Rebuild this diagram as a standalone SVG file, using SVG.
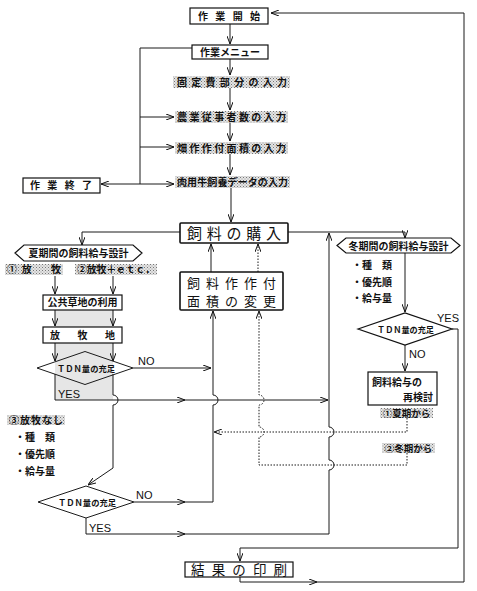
<svg xmlns="http://www.w3.org/2000/svg" width="477" height="591" viewBox="0 0 477 591">
<style>
.ln{fill:none;stroke:#1a1a1a;stroke-width:1}
.dt{fill:none;stroke:#1a1a1a;stroke-width:1;stroke-dasharray:1.5 1.5}
.bx{fill:#fff;stroke:#111;stroke-width:1.2}
.bb{fill:#fff;stroke:#111;stroke-width:1.6}
.sp{fill:url(#st);stroke:none}
.t{font-family:"Noto Sans CJK JP","Noto Sans CJK SC",sans-serif;font-size:10px;font-weight:700;fill:#111}
.tb{font-family:"Noto Sans CJK JP","Noto Sans CJK SC",sans-serif;font-size:15px;font-weight:400;fill:#111}
.en{font-family:"Liberation Sans",Arial,sans-serif;font-size:11px;fill:#111}
.dm{font-family:"Noto Sans CJK JP","Noto Sans CJK SC",sans-serif;font-size:8.5px;font-weight:700;fill:#111}
</style>
<defs>
<pattern id="st" width="3" height="3" patternUnits="userSpaceOnUse"><rect width="3" height="3" fill="#e4e4e4"/><rect width="1" height="1" fill="#777"/><rect x="1.5" y="1.5" width="1" height="1" fill="#999"/></pattern>
<marker id="ar" viewBox="0 0 8 6" refX="8" refY="3" markerWidth="8" markerHeight="6" orient="auto" markerUnits="userSpaceOnUse"><path d="M0,0 L8,3 L0,6" fill="none" stroke="#111" stroke-width="1"/></marker>
</defs>
<rect width="477" height="591" fill="#fff"/>
<rect x="55" y="310" width="58" height="90" fill="#e6e6e6"/>

<g id="connectors">
<path class="ln" d="M230,24 V44" marker-end="url(#ar)"/>
<path class="ln" d="M230,59 V75" marker-end="url(#ar)"/>
<path class="ln" d="M230,88 V110" marker-end="url(#ar)"/>
<path class="ln" d="M230,123 V141" marker-end="url(#ar)"/>
<path class="ln" d="M230,154 V175" marker-end="url(#ar)"/>
<path class="ln" d="M231,188 V222" marker-end="url(#ar)"/>
<path class="ln" d="M192,48 H140 V184"/>
<path class="ln" d="M140,117 H174" marker-end="url(#ar)"/>
<path class="ln" d="M140,147 H174" marker-end="url(#ar)"/>
<path class="ln" d="M140,184 H174" marker-end="url(#ar)"/>
<path class="ln" d="M140,184 H101" marker-end="url(#ar)"/>
<path class="ln" d="M180,232 H82 V245" marker-end="url(#ar)"/>
<path class="ln" d="M288,232 H405 V238" marker-end="url(#ar)"/>
<path class="ln" d="M55,276 V294" marker-end="url(#ar)"/>
<path class="ln" d="M113,276 V294" marker-end="url(#ar)"/>
<path class="ln" d="M55,310 V326" marker-end="url(#ar)"/>
<path class="ln" d="M113,310 V326" marker-end="url(#ar)"/>
<path class="ln" d="M55,343 V361" marker-end="url(#ar)"/>
<path class="ln" d="M113,343 V361" marker-end="url(#ar)"/>
<path class="ln" d="M133,368 H211" marker-end="url(#ar)"/>
<path class="ln" d="M55,374 V400 H185" marker-end="url(#ar)"/>
<path class="ln" d="M185,400 H328" marker-end="url(#ar)"/>
<path class="ln" d="M113,374 V395 A5,5 0 0 1 113,405 V468 L88,485" marker-end="url(#ar)"/>
<path class="ln" d="M134,502 H185" marker-end="url(#ar)"/>
<path class="ln" d="M185,502 H213 V405 A5,5 0 0 0 213,395 V311" marker-end="url(#ar)"/>
<path class="ln" d="M86,518 V534 H185" marker-end="url(#ar)"/>
<path class="ln" d="M185,534 H329 V470 A5,5 0 0 0 329,460 V437 A5,5 0 0 0 329,427 V233" marker-end="url(#ar)"/>
<path class="ln" d="M211,272 V244" marker-end="url(#ar)"/>
<path class="dt" d="M258,272 V244" marker-end="url(#ar)"/>
<path class="ln" d="M405,253 V312" marker-end="url(#ar)"/>
<path class="ln" d="M405,345 V371" marker-end="url(#ar)"/>
<path class="ln" d="M452,329 H458 V548 H240 V561" marker-end="url(#ar)"/>
<path class="ln" d="M240,577 V582 H317" marker-end="url(#ar)"/>
<path class="ln" d="M317,582 H464 V13 H271" marker-end="url(#ar)"/>
<path class="dt" d="M407,418 V432 H214" marker-end="url(#ar)"/>
<path class="dt" d="M407,453 V465 H259 V437 A5,5 0 0 0 259,427 V405 A5,5 0 0 0 259,395 V311" marker-end="url(#ar)"/>
</g>

<g id="start"><rect class="bx" x="190" y="8" width="78" height="16"/><text class="t" x="198" y="20" textLength="62" lengthAdjust="spacing">作業開始</text></g>
<g id="menu"><rect class="bx" x="192" y="45" width="76" height="14"/><text class="t" x="230" y="56" text-anchor="middle">作業メニュー</text></g>
<g id="fixed"><rect class="sp" x="173" y="76" width="117" height="12"/><text class="t" x="177" y="86" textLength="110" lengthAdjust="spacing">固定費部分の入力</text></g>
<g id="workers"><rect class="sp" x="175" y="111" width="113" height="12"/><text class="t" x="177" y="121" textLength="109" lengthAdjust="spacing">農業従事者数の入力</text></g>
<g id="area"><rect class="sp" x="175" y="142" width="113" height="12"/><text class="t" x="177" y="152" textLength="109" lengthAdjust="spacing">畑作作付面積の入力</text></g>
<g id="cattle"><rect class="sp" x="175" y="176" width="115" height="12"/><text class="t" x="177" y="186" textLength="111" lengthAdjust="spacing">肉用牛飼養データの入力</text></g>
<g id="end"><rect class="bx" x="23" y="178" width="77" height="15"/><text class="t" x="30" y="189" textLength="62" lengthAdjust="spacing">作業終了</text></g>
<g id="purchase"><rect class="bb" x="180" y="223" width="108" height="20" rx="1"/><text class="tb" x="187" y="238.5" textLength="94" lengthAdjust="spacing">飼料の購入</text></g>
<g id="summer"><polygon class="bx" points="15,253 24,245 133,245 142,253 133,261 24,261"/><text class="t" x="78.5" y="257" text-anchor="middle">夏期間の飼料給与設計</text></g>
<g id="graze"><rect class="sp" x="5" y="264" width="58" height="11"/><text class="t" x="7" y="273" textLength="54" lengthAdjust="spacing">①放　牧</text></g>
<g id="grazeetc"><rect class="sp" x="75" y="264" width="82" height="11"/><text class="t" x="77" y="273" textLength="78" lengthAdjust="spacing">②放牧＋ｅｔｃ．</text></g>
<g id="public"><rect class="bx" x="43" y="295" width="79" height="15"/><text class="t" x="82.5" y="306" text-anchor="middle">公共草地の利用</text></g>
<g id="pasture"><rect class="bx" x="43" y="327" width="79" height="16"/><text class="t" x="50" y="339" textLength="65" lengthAdjust="spacing">放牧地</text></g>
<g id="tdn1"><polygon class="ln" points="37,368 85,351.5 133,368 85,384.5"/><text class="dm" x="57" y="371.5" textLength="58" lengthAdjust="spacingAndGlyphs">ＴＤＮ量の充足</text></g>
<g id="nograze"><rect class="sp" x="7" y="415" width="58" height="10"/><text class="t" x="9" y="423.5" textLength="54" lengthAdjust="spacing">③放牧なし</text></g>
<g id="list1"><text class="t" x="15" y="441">・種　類</text><text class="t" x="15" y="458">・優先順</text><text class="t" x="15" y="475">・給与量</text></g>
<g id="tdn2"><polygon class="ln" points="38,502 86,486 134,502 86,518"/><text class="dm" x="58" y="505.5" textLength="58" lengthAdjust="spacingAndGlyphs">ＴＤＮ量の充足</text></g>
<g id="change"><rect class="bb" x="180" y="272" width="103" height="38" rx="1"/><text class="tb" x="187" y="287.5" style="font-size:13px" textLength="89" lengthAdjust="spacing">飼料作作付</text><text class="tb" x="187" y="306" style="font-size:13px" textLength="89" lengthAdjust="spacing">面積の変更</text></g>
<g id="winter"><polygon class="bx" points="337,245.5 346,238 451,238 460,245.5 451,253 346,253"/><text class="t" x="398.5" y="249.5" text-anchor="middle">冬期間の飼料給与設計</text></g>
<g id="list2"><text class="t" x="352" y="269">・種　類</text><text class="t" x="352" y="286">・優先順</text><text class="t" x="352" y="302">・給与量</text></g>
<g id="tdn3"><polygon class="bx" points="358,329 405,313 452,329 405,345"/><text class="dm" x="377" y="332.5" textLength="57" lengthAdjust="spacingAndGlyphs">ＴＤＮ量の充足</text></g>
<g id="review"><rect class="bx" x="368" y="372" width="69" height="33"/><text class="t" x="372" y="386">飼料給与の</text><text class="t" x="433" y="401" text-anchor="end">再検討</text></g>
<g id="fromsummer"><rect class="sp" x="380" y="408" width="53" height="10"/><text class="t" x="406.5" y="416.5" text-anchor="middle" style="font-size:9.5px">①夏期から</text></g>
<g id="fromwinter"><rect class="sp" x="382" y="443" width="53" height="10"/><text class="t" x="408.5" y="451.5" text-anchor="middle" style="font-size:9.5px">②冬期から</text></g>
<g id="print"><rect class="bx" x="185" y="562" width="108" height="15"/><text class="tb" x="191" y="575" style="font-size:13.5px" textLength="96" lengthAdjust="spacing">結果の印刷</text></g>

<g id="labels">
<text class="en" x="138" y="365">NO</text>
<text class="en" x="58" y="398">YES</text>
<text class="en" x="136" y="499">NO</text>
<text class="en" x="89" y="532">YES</text>
<text class="en" x="437" y="322">YES</text>
<text class="en" x="409" y="358">NO</text>
</g>
</svg>
